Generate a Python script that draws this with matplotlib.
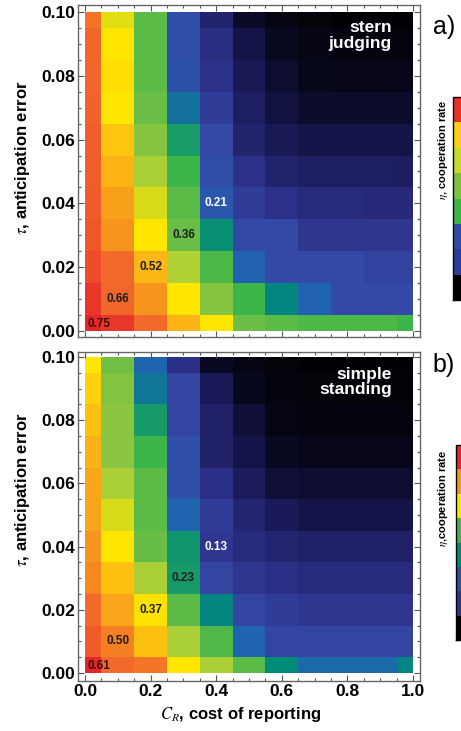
import numpy as np
import matplotlib
matplotlib.use('Agg')
import matplotlib.pyplot as plt
from matplotlib.colors import LinearSegmentedColormap, ListedColormap, BoundaryNorm
from matplotlib.cm import ScalarMappable
from matplotlib.ticker import MultipleLocator

plt.rcParams['font.family'] = ['Liberation Sans', 'DejaVu Sans']
plt.rcParams['mathtext.fontset'] = 'stix'

# cost of reporting (columns) and anticipation error (rows)
cost = [0.0, 0.1, 0.2, 0.3, 0.4, 0.5, 0.6, 0.7, 0.8, 0.9, 1.0]
tau = [0.00, 0.01, 0.02, 0.03, 0.04, 0.05, 0.06, 0.07, 0.08, 0.09, 0.10]

# cooperation rate, one list per cost value, tau going up
stern = [
    [0.75, 0.73, 0.71, 0.70, 0.69, 0.685, 0.68, 0.67, 0.66, 0.655, 0.63],
    [0.73, 0.66, 0.645, 0.585, 0.56, 0.525, 0.50, 0.45, 0.46, 0.45, 0.435],
    [0.645, 0.585, 0.52, 0.45, 0.43, 0.405, 0.38, 0.36, 0.345, 0.345, 0.345],
    [0.525, 0.45, 0.41, 0.36, 0.345, 0.315, 0.285, 0.24, 0.20, 0.195, 0.195],
    [0.45, 0.38, 0.33, 0.27, 0.21, 0.195, 0.19, 0.17, 0.15, 0.14, 0.12],
    [0.36, 0.315, 0.225, 0.19, 0.17, 0.15, 0.12, 0.105, 0.09, 0.075, 0.045],
    [0.345, 0.26, 0.19, 0.19, 0.15, 0.12, 0.09, 0.07, 0.055, 0.04, 0.025],
    [0.33, 0.225, 0.19, 0.16, 0.135, 0.105, 0.075, 0.05, 0.035, 0.025, 0.012],
    [0.33, 0.19, 0.19, 0.16, 0.135, 0.105, 0.075, 0.05, 0.03, 0.02, 0.008],
    [0.33, 0.19, 0.18, 0.16, 0.13, 0.105, 0.075, 0.05, 0.03, 0.018, 0.006],
    [0.315, 0.19, 0.18, 0.16, 0.13, 0.10, 0.075, 0.05, 0.03, 0.018, 0.006],
]
simple = [
    [0.61, 0.56, 0.525, 0.49, 0.475, 0.45, 0.45, 0.43, 0.41, 0.39, 0.365],
    [0.525, 0.50, 0.45, 0.41, 0.365, 0.35, 0.33, 0.31, 0.31, 0.305, 0.295],
    [0.51, 0.41, 0.37, 0.33, 0.29, 0.28, 0.28, 0.255, 0.23, 0.20, 0.185],
    [0.365, 0.33, 0.28, 0.23, 0.225, 0.185, 0.16, 0.16, 0.15, 0.15, 0.12],
    [0.33, 0.27, 0.21, 0.15, 0.13, 0.14, 0.12, 0.09, 0.09, 0.075, 0.035],
    [0.28, 0.185, 0.15, 0.13, 0.11, 0.10, 0.08, 0.06, 0.05, 0.03, 0.02],
    [0.215, 0.15, 0.14, 0.12, 0.10, 0.075, 0.05, 0.035, 0.02, 0.015, 0.01],
    [0.19, 0.15, 0.13, 0.11, 0.09, 0.06, 0.045, 0.025, 0.015, 0.01, 0.006],
    [0.19, 0.15, 0.13, 0.11, 0.09, 0.06, 0.045, 0.025, 0.015, 0.008, 0.005],
    [0.19, 0.15, 0.13, 0.11, 0.09, 0.06, 0.045, 0.025, 0.015, 0.008, 0.005],
    [0.21, 0.15, 0.13, 0.11, 0.09, 0.06, 0.045, 0.025, 0.015, 0.008, 0.005],
]
stern_labels = ['0.75', '0.66', '0.52', '0.36', '0.21']
simple_labels = ['0.61', '0.50', '0.37', '0.23', '0.13']

cmap = LinearSegmentedColormap.from_list('coop', list(zip(
    [0, .05, .10, .15, .20, .25, .30, .35, .42, .48, .54, .60, .70, .78, .86, .93, 1],
    ['#000000', '#08081e', '#14144a', '#22226a', '#2c3088', '#3448a5', '#1f62b0',
     '#00897b', '#3cb54a', '#6cbe45', '#a8cf38', '#ffe600', '#fbb416', '#f7941d',
     '#f26b2b', '#ef5a28', '#e3262a'])))

bar_a = ['#000000', '#2a3d98', '#2e4fa0', '#3cb54a', '#7dc142', '#c5d930', '#fdd017', '#e8302a']
bar_b = ['#000000', '#2a3590', '#2e4fa0', '#00897b', '#3cb54a', '#ffe600', '#f7941d', '#e3262a']

W, H = 461, 731
fig = plt.figure(figsize=(W / 100, H / 100), dpi=100)

cost_a = np.array(cost)
tau_a = np.array(tau)
xe = np.concatenate([[cost_a[0]], (cost_a[:-1] + cost_a[1:]) / 2, [cost_a[-1]]])
ye = np.concatenate([[tau_a[0]], (tau_a[:-1] + tau_a[1:]) / 2, [tau_a[-1]]])

panels = [
    dict(data=stern, labels=stern_labels, vmax=0.75, frame=(78, 5, 420, 337),
         ylim=(-0.0019, 0.1022), name='stern\njudging', letter='a)', letter_y=27,
         bar=bar_a, bar_box=(453, 97, 300), clabel=r'$\eta$, cooperation rate',
         clabel_y=150, ylab_y=158),
    dict(data=simple, labels=simple_labels, vmax=0.61, frame=(78, 352, 420, 681),
         ylim=(-0.0025, 0.1016), name='simple\nstanding', letter='b)', letter_y=365,
         bar=bar_b, bar_box=(456, 445, 640), clabel=r'$\eta$,cooperation rate',
         clabel_y=498, ylab_y=490),
]

for k, p in enumerate(panels):
    x0, y0, x1, y1 = p['frame']
    ax = fig.add_axes([x0 / W, 1 - y1 / H, (x1 - x0) / W, (y1 - y0) / H])
    z = np.array(p['data']).T
    ax.pcolormesh(xe, ye, z, cmap=cmap, vmin=0, vmax=p['vmax'], shading='flat')
    ax.set_xlim(-0.0213, 1.0213)
    ax.set_ylim(*p['ylim'])
    ax.xaxis.set_major_locator(MultipleLocator(0.2))
    ax.xaxis.set_minor_locator(MultipleLocator(0.05))
    ax.yaxis.set_major_locator(MultipleLocator(0.02))
    ax.yaxis.set_minor_locator(MultipleLocator(0.005))
    ax.tick_params(which='both', direction='in', top=True, right=True,
                   color='#555555', width=0.8)
    ax.tick_params(which='major', length=4, labelsize=12.5, pad=2)
    ax.tick_params(which='minor', length=2)
    for s in ax.spines.values():
        s.set_color('#666666')
        s.set_linewidth(1.0)
    ax.yaxis.set_major_formatter(plt.FormatStrFormatter('%.2f'))
    ax.xaxis.set_major_formatter(plt.FormatStrFormatter('%.1f'))
    for lab in ax.get_xticklabels() + ax.get_yticklabels():
        lab.set_fontweight('bold')
    if k == 0:
        ax.tick_params(labelbottom=False)

    # diagonal value labels
    for i, txt in enumerate(p['labels']):
        col = 'white' if i == 4 else '#1e1e1e'
        if i == 0:
            ax.annotate(txt, (cost[0], tau[0]), xytext=(1.5, 1), textcoords='offset points',
                        ha='left', va='bottom', fontsize=8.5, fontweight='bold', color='#3a0c0c')
        else:
            ax.text(cost[i], tau[i], txt, ha='center', va='center', fontsize=8.5,
                    fontweight='bold', color=col)

    ax.text(0.918, 0.955, p['name'], transform=ax.transAxes, ha='right', va='top',
            fontsize=12.5, fontweight='bold', color='white', linespacing=1.05)

    fig.text(444 / W, 1 - p['letter_y'] / H, p['letter'], ha='center', va='center', fontsize=18)

    fig.text(22 / W, 1 - p['ylab_y'] / H, r'$\tau$, anticipation error', rotation=90,
             ha='center', va='center', fontsize=12, fontweight='bold')

    bx, btop, bbot = p['bar_box']
    cax = fig.add_axes([bx / W, 1 - bbot / H, 20 / W, (bbot - btop) / H])
    sm = ScalarMappable(norm=BoundaryNorm(np.arange(9), 8), cmap=ListedColormap(p['bar']))
    cb = fig.colorbar(sm, cax=cax)
    cb.set_ticks([])
    cb.outline.set_linewidth(1.0)
    fig.text(443 / W, 1 - p['clabel_y'] / H, p['clabel'], rotation=90, ha='center',
             va='center', fontsize=8, fontweight='bold')

fig.text(241 / W, 1 - 715 / H, r'$C_R$, cost of reporting', ha='center', va='center',
         fontsize=12, fontweight='bold')

fig.savefig('out.png', dpi=100)
